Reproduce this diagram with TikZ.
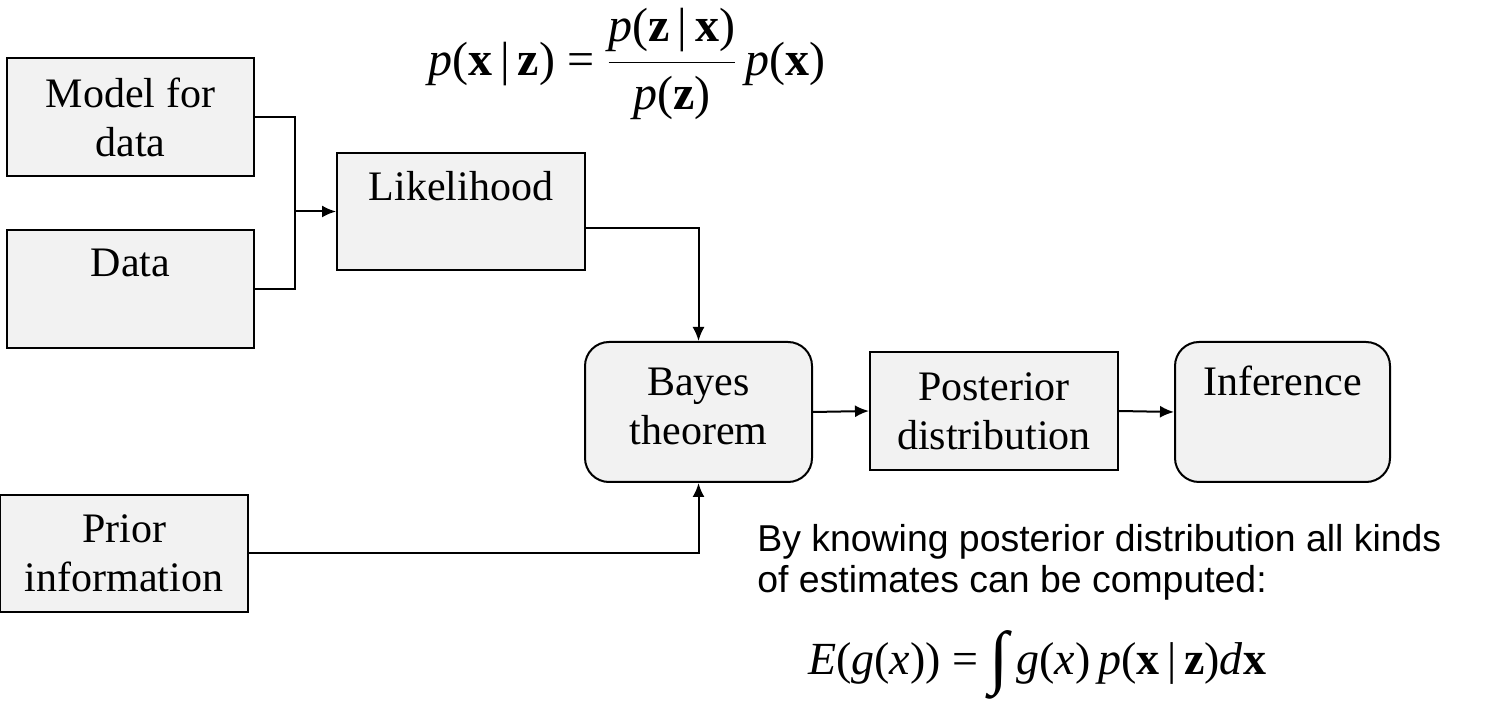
\documentclass[tikz,border=0pt]{standalone}
\usepackage{fontspec}
\setmainfont{Liberation Serif}
\setsansfont{Liberation Sans}
\usepackage{tikz}
\usetikzlibrary{positioning,arrows.meta}
\definecolor{boxgray}{HTML}{F2F2F2}

\newcommand{\vx}{\textbf{x}}
\newcommand{\vz}{\textbf{z}}

\tikzset{
    block/.style={draw, fill=boxgray, line width=1pt, inner sep=0pt, align=center,
        font=\fontsize{21}{24.5}\selectfont},
    rblock/.style={block, rounded corners=12pt},
    btext/.style={anchor=base, inner sep=0pt, font=\fontsize{21}{24.5}\selectfont},
    link/.style={line width=1pt, -{Latex[length=7pt,width=6pt]}},
    eq/.style={inner sep=0pt, font=\fontsize{23}{28}\selectfont},
}

\begin{document}
\begin{tikzpicture}[x=0.5pt, y=-0.5pt]
    \useasboundingbox (0,0) rectangle (1492,704);

    % inputs
    \node[block, minimum width=123.5pt, minimum height=59pt] (model) at (130.5,117) {Model for\\data};
    \node[block, minimum width=123.5pt, minimum height=59pt] (data) at (130.5,289) {};
    \node[btext] (datatext) at (130.5,277) {Data};
    \node[block, minimum width=124pt, minimum height=58.5pt] (prior) at (124,553.5) {Prior\\information};

    % likelihood
    \node[block, minimum width=124pt, minimum height=58.5pt] (like) at (461,211.5) {};
    \node[btext] (liketext) at (461,201) {Likelihood};

    % bayes and results
    \node[rblock, minimum width=113.5pt, minimum height=70pt] (bayes) at (698.5,412) {};
    \node[btext, align=center] (bayestext) at (698.5,445) {Bayes\\theorem};
    \node[block, minimum width=124pt, minimum height=59pt] (post) at (994,411) {Posterior\\distribution};
    \node[rblock, minimum width=107.5pt, minimum height=70pt] (infer) at (1282.5,412) {};
    \node[btext] (infertext) at (1282.5,396) {Inference};

    % connections
    \coordinate (join) at (295,211.5);
    \draw[line width=1pt] (model.east) -| (join) |- (data.east);
    \draw[link] (join) -- (like.west);
    \draw[link] ([yshift=-8.25pt]like.east) -| (bayes.north);
    \draw[link] (prior.east) -| (bayes.south);
    \draw[link] (bayes.east) -- (post.west);
    \draw[link] (post.east) -- (infer.west);

    % formulas
    \node[eq, font=\fontsize{24}{28}\selectfont] (bayesrule) at (627,64)
        {\textit{p}(\vx\,|\,\vz) = $\displaystyle\frac{\hbox{\textit{p}(\vz\,|\,\vx)}}{\hbox{\textit{p}(\vz)}}$\,\textit{p}(\vx)};
    \node[anchor=north west, inner sep=0pt, align=left,
          font=\sffamily\fontsize{18.7}{20.5}\selectfont] (note) at (757,524)
        {By knowing posterior distribution all kinds\\of estimates can be computed:};
    \node[eq] (expect) at (1037,665)
        {\textit{E}(\textit{g}(\textit{x})) = \raisebox{-0.3ex}{\fontsize{35}{35}\selectfont ∫}\,\textit{g}(\textit{x})\,\textit{p}(\vx\,|\,\vz)\textit{d}\vx};
\end{tikzpicture}
\end{document}
